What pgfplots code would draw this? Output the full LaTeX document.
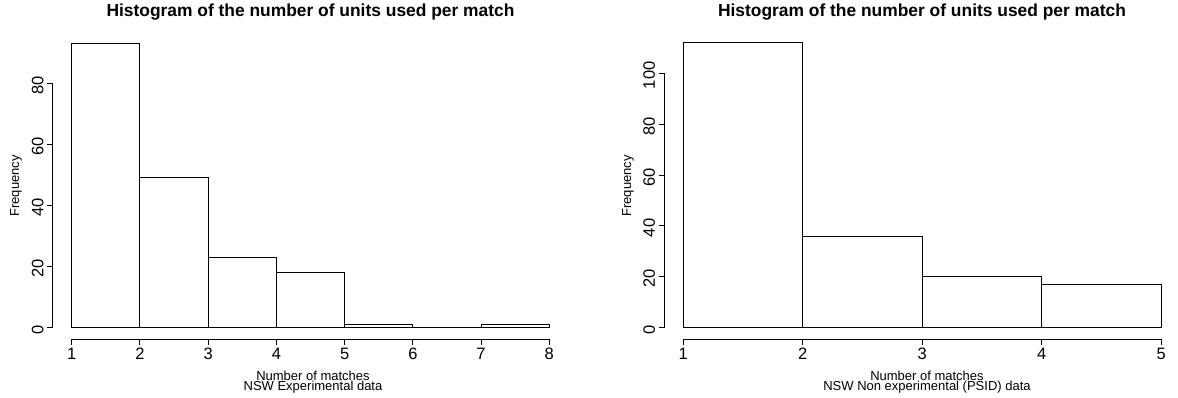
\documentclass[border=0pt]{standalone}
\usepackage{fontspec}
\setmainfont{Liberation Sans}
\usepackage{pgfplots}
\pgfplotsset{compat=1.18}
\pgfplotsset{rstyle/.style={
  scale only axis, anchor=south west,
  axis x line*=bottom, axis y line*=left,
  axis line style={draw=none},
  tick align=outside, major tick length=5.5pt,
  every tick/.style={black, line width=0.9pt},
  tick label style={font=\fontsize{16.5}{18}\selectfont},
  /pgf/number format/assume math mode=true,
  yticklabel style={rotate=90, anchor=south, xshift=-2pt},
  xticklabel style={anchor=north},
  clip=false,
}}
\begin{document}
\begin{tikzpicture}[x=1pt,y=1pt]
\useasboundingbox (0,0) rectangle (1178,398);
% Left panel
\begin{axis}[rstyle, at={(52.6pt,58.9pt)}, width=515.8pt, height=307.2pt,
  xmin=0.72, xmax=8.28, ymin=-3.72, ymax=96.72,
  xtick={1,2,3,4,5,6,7,8}, ytick={0,20,40,60,80}]
\addplot[ybar interval, fill=white, draw=black, line width=0.9pt] coordinates {
  (1,93) (2,49) (3,23) (4,18) (5,1) (6,0) (7,1) (8,1)};
\draw[line width=0.9pt] (axis cs:1,-3.72) -- (axis cs:8,-3.72);
\draw[line width=0.9pt] (axis cs:0.72,0) -- (axis cs:0.72,80);
\end{axis}
% Right panel
\begin{axis}[rstyle, at={(664pt,58.9pt)}, width=516.4pt, height=307.7pt,
  xmin=0.84, xmax=5.16, ymin=-4.48, ymax=116.48,
  xtick={1,2,3,4,5}, ytick={0,20,40,60,80,100}]
\addplot[ybar interval, fill=white, draw=black, line width=0.9pt] coordinates {
  (1,112) (2,36) (3,20) (4,17) (5,17)};
\draw[line width=0.9pt] (axis cs:1,-4.48) -- (axis cs:5,-4.48);
\draw[line width=0.9pt] (axis cs:0.84,0) -- (axis cs:0.84,100);
\end{axis}
% Titles and labels
\node[anchor=base, font=\fontsize{17.4}{20}\selectfont\bfseries] at (310.5,381.3) {Histogram of the number of units used per match};
\node[anchor=base, font=\fontsize{17.4}{20}\selectfont\bfseries] at (922,381.3) {Histogram of the number of units used per match};
\node[anchor=base, font=\fontsize{13}{15}\selectfont] at (313,17.5) {Number of matches};
\node[anchor=base, font=\fontsize{13}{15}\selectfont] at (313,7) {NSW Experimental data};
\node[anchor=base, font=\fontsize{13}{15}\selectfont] at (927,17.5) {Number of matches};
\node[anchor=base, font=\fontsize{13}{15}\selectfont] at (927,7) {NSW Non experimental (PSID) data};
\node[rotate=90, font=\fontsize{13}{15}\selectfont] at (16,212) {Frequency};
\node[rotate=90, font=\fontsize{13}{15}\selectfont] at (628,212) {Frequency};
\end{tikzpicture}
\end{document}
